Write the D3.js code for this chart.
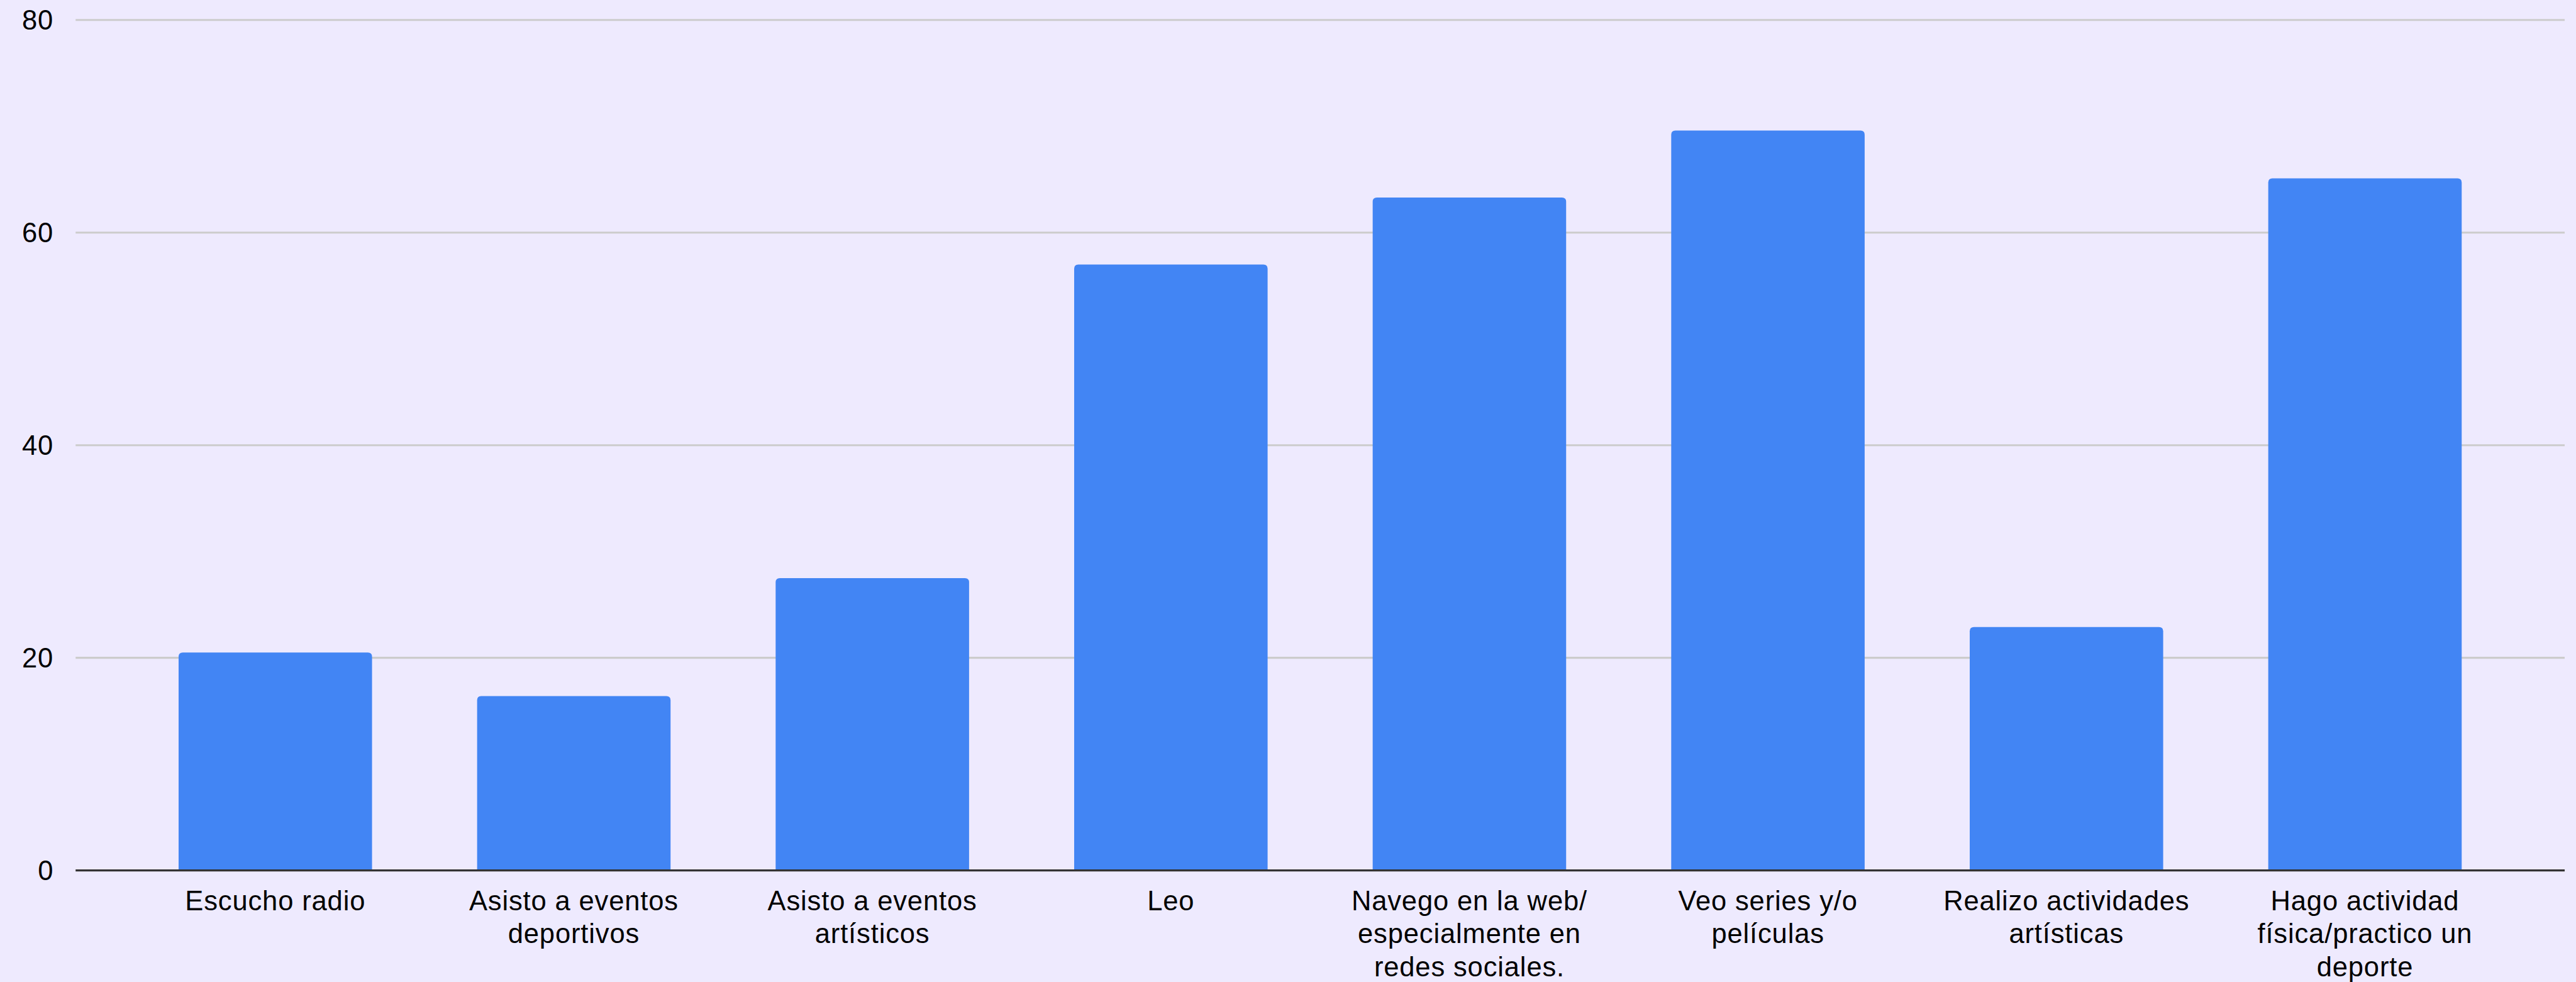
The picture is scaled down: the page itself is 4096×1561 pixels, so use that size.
<!DOCTYPE html>
<html>
<head>
<meta charset="utf-8">
<script src="https://cdn.jsdelivr.net/npm/d3@7"></script>
<style>
  html, body { margin: 0; padding: 0; background: #eeeafe; }
  svg { display: block; }
  text { font-family: "Liberation Sans", Arial, sans-serif; fill: #000; letter-spacing: 0.9px; }
</style>
</head>
<body>
<svg id="chart"></svg>
<script>
// data
const categories = [
    "Escucho radio",
    "Asisto a eventos deportivos",
    "Asisto a eventos artísticos",
    "Leo",
    "Navego en la web/ especialmente en redes sociales.",
    "Veo series y/o películas",
    "Realizo actividades artísticas",
    "Hago actividad física/practico un deporte"
];
const values = [20.5, 16.4, 27.5, 57.0, 63.3, 69.6, 22.9, 65.1];
const yTicks = [0, 20, 40, 60, 80];

// reference is 4327x1649, drawn at window size
const W = 4096, H = 1561;
const s = W / 4327;

const svg = d3.select("#chart").attr("width", W).attr("height", H);
svg.append("rect").attr("width", W).attr("height", H).attr("fill", "#eeeafe");

// everything below is in reference pixels
const g = svg.append("g").attr("transform", `scale(${s})`);

const plotLeft = 127, plotRight = 4308, plotTop = 33.5, plotBottom = 1461.7;

const x = d3.scaleBand()
    .domain(categories)
    .range([plotLeft, plotRight])
    .paddingInner(0.352)
    .paddingOuter(0.345);

const y = d3.scaleLinear()
    .domain([0, 80])
    .range([plotBottom, plotTop]);

// gridlines
g.append("g")
    .selectAll("line")
    .data(yTicks.filter(d => d !== 0))
    .enter().append("line")
    .attr("x1", plotLeft).attr("x2", plotRight)
    .attr("y1", d => y(d)).attr("y2", d => y(d))
    .attr("stroke", "#cccccc")
    .attr("stroke-width", 3.3);

// y labels
g.append("g")
    .selectAll("text")
    .data(yTicks)
    .enter().append("text")
    .attr("x", 90)
    .attr("y", d => y(d))
    .attr("dy", "0.35em")
    .attr("text-anchor", "end")
    .style("font-size", "46px")
    .text(d => d);

// bars with rounded top corners
const r = 7;
function barPath(d, i) {
    const x0 = x(categories[i]), x1 = x0 + x.bandwidth();
    const y0 = y(d), y1 = y(0);
    return `M${x0},${y1}V${y0 + r}Q${x0},${y0} ${x0 + r},${y0}H${x1 - r}Q${x1},${y0} ${x1},${y0 + r}V${y1}Z`;
}

g.append("g")
    .selectAll("path")
    .data(values)
    .enter().append("path")
    .attr("d", barPath)
    .attr("fill", "#4285f4");

// baseline
g.append("line")
    .attr("x1", plotLeft).attr("x2", plotRight)
    .attr("y1", y(0)).attr("y2", y(0))
    .attr("stroke", "#333333")
    .attr("stroke-width", 3.5);

// category labels, wrapped
const labels = g.append("g")
    .selectAll("text")
    .data(categories)
    .enter().append("text")
    .attr("x", d => x(d) + x.bandwidth() / 2)
    .attr("y", 1529)
    .attr("text-anchor", "middle")
    .style("font-size", "46px");

labels.each(function(d) {
    const text = d3.select(this);
    const words = d.split(/\s+/);
    const maxW = 440;
    let line = [];
    let tspan = text.append("tspan").attr("x", text.attr("x")).attr("dy", 0);
    words.forEach(w => {
        line.push(w);
        tspan.text(line.join(" "));
        if (tspan.node().getComputedTextLength() > maxW && line.length > 1) {
            line.pop();
            tspan.text(line.join(" "));
            line = [w];
            tspan = text.append("tspan").attr("x", text.attr("x")).attr("dy", 55).text(w);
        }
    });
});
</script>
</body>
</html>
